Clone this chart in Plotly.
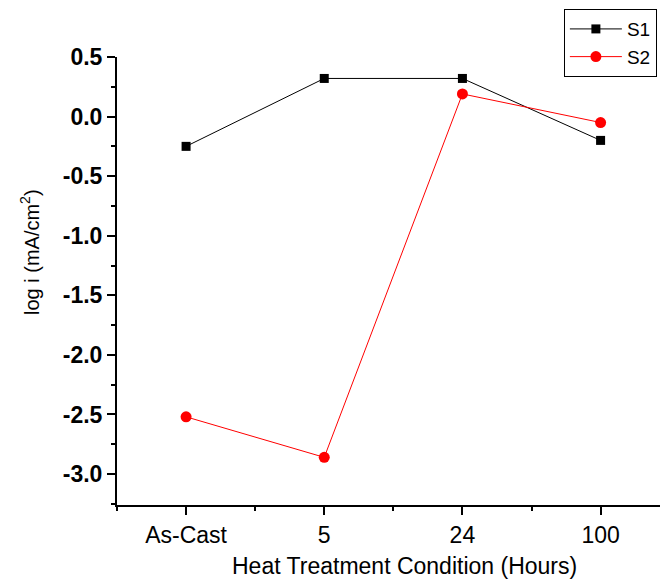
import plotly.graph_objects as go

categories = ["As-Cast", "5", "24", "100"]
s1_values = [-0.25, 0.32, 0.32, -0.20]
s2_values = [-2.52, -2.86, 0.19, -0.05]
y_tick_values = [0.5, 0.0, -0.5, -1.0, -1.5, -2.0, -2.5, -3.0]
y_tick_labels = ["0.5", "0.0", "-0.5", "-1.0", "-1.5", "-2.0", "-2.5", "-3.0"]
x_title = "Heat Treatment Condition (Hours)"
y_title = "log i (mA/cm<sup>2</sup>)"

x_pos = list(range(len(categories)))

fig = go.Figure()
fig.add_trace(go.Scatter(
    x=x_pos, y=s1_values, name="S1", mode="lines+markers",
    line=dict(color="black", width=1),
    marker=dict(symbol="square", size=9, color="black"),
))
fig.add_trace(go.Scatter(
    x=x_pos, y=s2_values, name="S2", mode="lines+markers",
    line=dict(color="red", width=1),
    marker=dict(symbol="circle", size=11, color="red"),
))

fig.update_layout(
    width=661, height=579,
    margin=dict(l=117, r=1, t=57, b=74),
    paper_bgcolor="white", plot_bgcolor="white",
    font=dict(family="Arial, Liberation Sans, sans-serif", color="black"),
    showlegend=True,
    legend=dict(
        x=0.823, y=1.107, xanchor="left", yanchor="top",
        bordercolor="black", borderwidth=1, bgcolor="white",
        font=dict(size=19), itemwidth=52, tracegroupgap=0,
    ),
    annotations=[
        dict(text=x_title, xref="paper", yref="paper", x=0.53, y=-0.137,
             xanchor="center", yanchor="middle", showarrow=False,
             font=dict(size=23)),
        dict(text=y_title, xref="paper", yref="paper", x=-0.160, y=0.565,
             xanchor="center", yanchor="middle", showarrow=False, textangle=-90,
             font=dict(size=20)),
    ],
)

fig.update_xaxes(
    range=[-0.5, 3.43], tickvals=x_pos, ticktext=categories,
    showgrid=False, zeroline=False,
    showline=True, linecolor="black", linewidth=2,
    ticks="outside", ticklen=8, tickwidth=1.5, tickcolor="black",
    tickfont=dict(size=23),
    minor=dict(dtick=0.5, tick0=-0.5, ticks="outside", ticklen=4, tickwidth=1.5, tickcolor="black"),
)
fig.update_yaxes(
    range=[-3.26, 0.5], tickvals=y_tick_values, ticktext=y_tick_labels,
    showgrid=False, zeroline=False,
    showline=True, linecolor="black", linewidth=2,
    ticks="outside", ticklen=8, tickwidth=1.5, tickcolor="black",
    tickfont=dict(size=23, weight="bold"),
    minor=dict(dtick=0.25, tick0=0, ticks="outside", ticklen=4, tickwidth=1.5, tickcolor="black"),
)

fig.write_html("out.html")
